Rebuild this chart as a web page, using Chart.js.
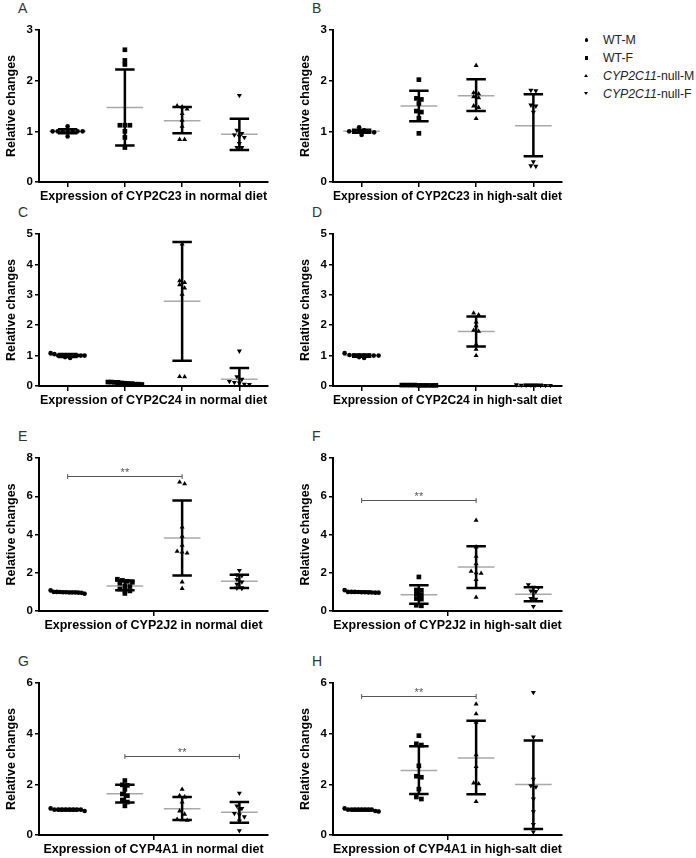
<!DOCTYPE html>
<html>
<head>
<meta charset="utf-8">
<script src="https://cdn.jsdelivr.net/npm/chart.js@4.4.1/dist/chart.umd.min.js"></script>
<style>
  body { margin: 0; background: #fff; width: 696px; height: 858px; position: relative; overflow: hidden;
         font-family: 'Liberation Sans', Arial, sans-serif; }
  canvas { position: absolute; }
  .letter { position: absolute; font-size: 14px; line-height: 14px; color: #333; }
  .lg { position: absolute; font-size: 12.3px; line-height: 14px; color: #222; }
  .mk { position: absolute; width: 0; height: 0; }
</style>
</head>
<body>
<div id="legend"></div>
<script>
const groups = ['WT-M', 'WT-F', 'CYP2C11-null-M', 'CYP2C11-null-F'];
const panelLetters = ['A', 'B', 'C', 'D', 'E', 'F', 'G', 'H'];
const panelTitles = [
  'Expression of CYP2C23 in normal diet', 'Expression of CYP2C23 in high-salt diet',
  'Expression of CYP2C24 in normal diet', 'Expression of CYP2C24 in high-salt diet',
  'Expression of CYP2J2 in normal diet', 'Expression of CYP2J2 in high-salt diet',
  'Expression of CYP4A1 in normal diet', 'Expression of CYP4A1 in high-salt diet'
];
const yMaxes = [3, 3, 5, 5, 8, 8, 6, 6];
const ySteps = [1, 1, 1, 1, 2, 2, 2, 2];
const xTickSets = [[1, 2, 3, 4], [1, 2, 3, 4], [1, 2, 3, 4], [1, 2, 3, 4], [2.5], [2.5], [2.5], [2.5]];

// values per group: WT-M, WT-F, null-M, null-F
const valuesA = [[1.1, 1.0, 1.0, 1.0, 1.0, 1.0, 1.0, 1.0, 0.9],
                 [2.61, 2.40, 2.32, 1.12, 1.12, 1.12, 1.0, 0.88, 0.68],
                 [1.5, 1.48, 1.44, 1.35, 1.22, 1.10, 0.84, 0.84],
                 [1.71, 1.02, 0.96, 0.93, 0.90, 0.88, 0.76, 0.68, 0.68]];
const meanA = [1.0, 1.47, 1.21, 0.94];
const lowA = [0.96, 0.72, 0.96, 0.63];
const highA = [1.04, 2.22, 1.48, 1.25];

const valuesB = [[1.08, 1.02, 1.0, 1.0, 1.0, 1.0, 1.0, 0.98, 0.93],
                 [2.02, 1.65, 1.63, 1.55, 1.40, 1.38, 1.26, 0.96],
                 [2.3, 1.76, 1.74, 1.68, 1.66, 1.50, 1.47, 1.25],
                 [1.81, 1.80, 1.52, 1.50, 1.38, 0.40, 0.32, 0.31]];
const meanB = [1.0, 1.50, 1.70, 1.11];
const lowB = [0.97, 1.20, 1.40, 0.51];
const highB = [1.03, 1.80, 2.03, 1.73];

const valuesC = [[1.08, 1.05, 1.0, 1.0, 1.0, 1.0, 1.0, 1.0, 1.0, 1.0, 0.95, 0.92],
                 [0.13, 0.12, 0.12, 0.1, 0.09, 0.08, 0.07, 0.06, 0.06, 0.05, 0.13],
                 [4.67, 3.46, 3.40, 3.33, 3.22, 3.02, 0.31, 0.30],
                 [1.15, 0.31, 0.22, 0.15, 0.12, 0.1, 0.06, 0.05]];
const meanC = [1.0, 0.08, 2.79, 0.22];
const lowC = [0.95, 0.05, 0.83, -0.15];
const highC = [1.05, 0.11, 4.74, 0.59];

const valuesD = [[1.08, 1.02, 1.0, 1.0, 1.0, 1.0, 1.0, 1.0, 0.95, 0.92],
                 [0.03, 0.02, 0.03, 0.02, 0.03, 0.02, 0.02, 0.03, 0.02],
                 [2.40, 2.34, 2.10, 1.98, 1.83, 1.80, 1.37, 1.21, 1.00],
                 [0.03, 0.02, 0.03, 0.04, 0.02, 0.03, 0.02, 0.03]];
const meanD = [1.0, 0.025, 1.79, 0.03];
const lowD = [0.96, 0.02, 1.30, 0.02];
const highD = [1.04, 0.03, 2.29, 0.04];

const valuesE = [[1.08, 1.0, 1.0, 0.99, 0.98, 0.98, 0.97, 0.97, 0.97, 0.96, 0.95, 0.9],
                 [1.66, 1.6, 1.55, 1.5, 1.45, 1.3, 1.28, 1.15, 1.08, 1.05, 0.92],
                 [6.74, 6.65, 4.39, 3.9, 3.43, 3.12, 3.08, 3.03, 1.52, 1.18],
                 [2.12, 1.88, 1.85, 1.65, 1.52, 1.40, 1.22, 1.2, 1.18]];
const meanE = [0.98, 1.31, 3.82, 1.55];
const lowE = [0.95, 1.08, 1.86, 1.20];
const highE = [1.01, 1.59, 5.78, 1.90];

const valuesF = [[1.1, 1.0, 1.0, 1.0, 0.99, 0.98, 0.98, 0.97, 0.97, 0.96, 0.96],
                 [1.78, 1.1, 1.08, 0.88, 0.85, 0.65, 0.62, 0.3, 0.27],
                 [4.74, 3.35, 2.86, 2.47, 2.07, 2.0, 1.97, 1.64, 0.71],
                 [1.38, 1.25, 1.22, 1.05, 1.02, 0.66, 0.62, 0.24]];
const meanF = [0.99, 0.85, 2.30, 0.87];
const lowF = [0.96, 0.38, 1.20, 0.51];
const highF = [1.02, 1.34, 3.38, 1.24];

const valuesG = [[1.05, 1.0, 1.0, 1.0, 1.0, 1.0, 1.0, 1.0, 1.0, 0.95],
                 [2.15, 1.98, 1.96, 1.8, 1.62, 1.55, 1.38, 1.3, 1.15],
                 [1.8, 1.55, 1.5, 1.3, 0.95, 0.82, 0.62, 0.6, 0.58],
                 [1.65, 1.15, 1.05, 1.0, 0.85, 0.8, 0.72, 0.55, 0.17]];
const meanG = [1.0, 1.63, 1.04, 0.90];
const lowG = [0.97, 1.28, 0.59, 0.48];
const highG = [1.03, 1.98, 1.50, 1.30];

const valuesH = [[1.05, 1.0, 1.0, 1.0, 1.0, 1.0, 1.0, 1.0, 1.0, 0.95, 0.93],
                 [3.92, 3.6, 3.55, 2.73, 2.32, 2.28, 1.81, 1.5, 1.42],
                 [5.17, 4.78, 4.45, 3.17, 2.7, 2.05, 2.02, 1.32],
                 [5.63, 3.87, 2.2, 1.95, 1.9, 1.42, 0.92, 0.42, 0.12]];
const meanH = [1.0, 2.55, 3.04, 1.99];
const lowH = [0.97, 1.62, 1.61, 0.24];
const highH = [1.03, 3.50, 4.51, 3.73];

// significance brackets: [from group, to group, y value]
const sigBars = [null, null, null, null, [1, 3, 7.07], [1, 3, 5.8], [2, 4, 3.12], [1, 3, 5.49]];

const allValues = [valuesA, valuesB, valuesC, valuesD, valuesE, valuesF, valuesG, valuesH];
const allMeans = [meanA, meanB, meanC, meanD, meanE, meanF, meanG, meanH];
const allLows = [lowA, lowB, lowC, lowD, lowE, lowF, lowG, lowH];
const allHighs = [highA, highB, highC, highD, highE, highF, highG, highH];

const FONT = "'Liberation Sans', Arial, sans-serif";
const rowTop = [30, 234, 458, 683];
const rowZero = [182, 386, 611, 835];
const markerStyle = ['circle', 'rect', 'triangle', 'triangle'];
const markerRot = [0, 0, 0, 180];
const markerRadius = [2.3, 3.3, 2.9, 2.9];

// scatter-dot spread: points at about the same height are laid side by side
function spread(vals, center, pxPerY) {
  const pxPerX = 229 / 4;
  const order = vals.map((v, i) => i).sort((a, b) => vals[b] - vals[a]);
  const xs = [];
  let i = 0;
  while (i < order.length) {
    const row = [order[i]];
    let j = i + 1;
    while (j < order.length && (vals[order[i]] - vals[order[j]]) * pxPerY < 3.5) { row.push(order[j]); j++; }
    const gap = row.length > 1 ? Math.min(5, 34 / (row.length - 1)) : 0;
    row.forEach((k, n) => { xs[k] = center + (n - (row.length - 1) / 2) * gap / pxPerX; });
    i = j;
  }
  return vals.map((v, k) => ({ x: xs[k], y: v }));
}

function statsPlugin(p) {
  return {
    id: 'stats',
    beforeDatasetsDraw(chart) {
      const { ctx, chartArea: a, scales: { x, y } } = chart;
      ctx.save();
      ctx.beginPath(); ctx.rect(a.left, 0, a.right - a.left, a.bottom); ctx.clip();
      ctx.strokeStyle = '#a8a8a8'; ctx.lineWidth = 1.5;
      allMeans[p].forEach((m, g) => {
        const py = y.getPixelForValue(m);
        ctx.beginPath();
        ctx.moveTo(x.getPixelForValue(g + 1 - 0.32), py);
        ctx.lineTo(x.getPixelForValue(g + 1 + 0.32), py);
        ctx.stroke();
      });
      ctx.restore();
    },
    afterDatasetsDraw(chart) {
      const { ctx, chartArea: a, scales: { x, y } } = chart;
      ctx.save();
      ctx.beginPath(); ctx.rect(a.left, 0, a.right - a.left, a.bottom); ctx.clip();
      ctx.strokeStyle = '#000'; ctx.lineWidth = 2.5;
      allMeans[p].forEach((m, g) => {
        const cx = x.getPixelForValue(g + 1);
        const lo = y.getPixelForValue(allLows[p][g]);
        const hi = y.getPixelForValue(allHighs[p][g]);
        const c0 = x.getPixelForValue(g + 1 - 0.17), c1 = x.getPixelForValue(g + 1 + 0.17);
        ctx.beginPath();
        ctx.moveTo(cx, lo); ctx.lineTo(cx, hi);
        ctx.moveTo(c0, lo); ctx.lineTo(c1, lo);
        ctx.moveTo(c0, hi); ctx.lineTo(c1, hi);
        ctx.stroke();
      });
      ctx.restore();
      const s = sigBars[p];
      if (s) {
        const x0 = x.getPixelForValue(s[0]), x1 = x.getPixelForValue(s[1]);
        const py = Math.round(y.getPixelForValue(s[2])) + 0.5;
        ctx.save();
        ctx.strokeStyle = '#555'; ctx.lineWidth = 1;
        ctx.beginPath();
        ctx.moveTo(x0, py); ctx.lineTo(x1, py);
        ctx.moveTo(x0, py - 2.5); ctx.lineTo(x0, py + 2.5);
        ctx.moveTo(x1, py - 2.5); ctx.lineTo(x1, py + 2.5);
        ctx.stroke();
        ctx.fillStyle = '#555';
        ctx.font = '11px ' + FONT;
        ctx.textAlign = 'center'; ctx.textBaseline = 'alphabetic';
        ctx.fillText('**', (x0 + x1) / 2, py - 1);
        ctx.restore();
      }
    }
  };
}

panelLetters.forEach((letter, p) => {
  const col = p % 2, row = Math.floor(p / 2);
  const top = rowTop[row], zero = rowZero[row];
  const canvas = document.createElement('canvas');
  canvas.width = 290;
  canvas.height = 10 + (zero - top) + 22;
  canvas.style.left = (col * 294) + 'px';
  canvas.style.top = (top - 10) + 'px';
  document.body.appendChild(canvas);

  const lab = document.createElement('div');
  lab.className = 'letter';
  lab.textContent = letter;
  lab.style.left = (col ? 312 : 18) + 'px';
  lab.style.top = (top - 29) + 'px';
  document.body.appendChild(lab);

  const pxPerY = (zero - top) / yMaxes[p];
  const datasets = allValues[p].map((vals, g) => ({
    label: groups[g],
    data: spread(vals, g + 1, pxPerY),
    pointStyle: markerStyle[g],
    rotation: markerRot[g],
    pointRadius: markerRadius[g],
    backgroundColor: '#000',
    borderWidth: 0,
    showLine: false,
    clip: false
  }));

  new Chart(canvas, {
    type: 'scatter',
    data: { datasets },
    options: {
      responsive: false,
      animation: false,
      events: [],
      layout: { padding: { top: 10, right: 22, left: 0, bottom: 0 } },
      plugins: { legend: { display: false }, tooltip: { enabled: false } },
      scales: {
        x: {
          type: 'linear', min: 0.5, max: 4.5,
          afterBuildTicks: s => { s.ticks = xTickSets[p].map(v => ({ value: v })); },
          afterFit: s => { s.height = 22; },
          ticks: { display: false },
          grid: { drawOnChartArea: false, drawTicks: true, tickLength: 5, color: '#000', lineWidth: 1.5 },
          border: { display: true, color: '#000', width: 2 },
          title: { display: true, text: panelTitles[p], color: '#000',
                   font: { family: FONT, size: 12.5, weight: 'bold' }, padding: { top: 0, bottom: 0 } }
        },
        y: {
          min: 0, max: yMaxes[p],
          afterFit: s => { s.width = 39; },
          ticks: { stepSize: ySteps[p], color: '#000', font: { family: FONT, size: 11.5, weight: 'bold' }, padding: 2 },
          grid: { drawOnChartArea: false, drawTicks: true, tickLength: 4, color: '#000', lineWidth: 1.5 },
          border: { display: true, color: '#000', width: 2 },
          title: { display: true, text: 'Relative changes', color: '#000',
                   font: { family: FONT, size: 12.5, weight: 'bold' }, padding: { top: 4, bottom: 0 } }
        }
      }
    },
    plugins: [statsPlugin(p)]
  });
});

// legend
const legend = document.getElementById('legend');
const legendY = [40, 58, 76, 94];
const markerCss = [
  'left:584.5px;width:3.5px;height:3.5px;border-radius:50%;background:#000;',
  'left:584.5px;width:3.5px;height:3.5px;background:#000;',
  'left:584px;border-left:2px solid transparent;border-right:2px solid transparent;border-bottom:3.5px solid #000;',
  'left:584px;border-left:2px solid transparent;border-right:2px solid transparent;border-top:3.5px solid #000;'
];
groups.forEach((name, g) => {
  const mk = document.createElement('div');
  mk.className = 'mk';
  mk.style.cssText = markerCss[g] + 'top:' + (legendY[g] - 2) + 'px;';
  legend.appendChild(mk);
  const t = document.createElement('div');
  t.className = 'lg';
  t.style.left = '603px';
  t.style.top = (legendY[g] - 7) + 'px';
  if (name.startsWith('CYP2C11')) {
    t.innerHTML = '<i>CYP2C11</i>' + name.slice(7);
  } else {
    t.textContent = name;
  }
  legend.appendChild(t);
});
</script>
</body>
</html>
